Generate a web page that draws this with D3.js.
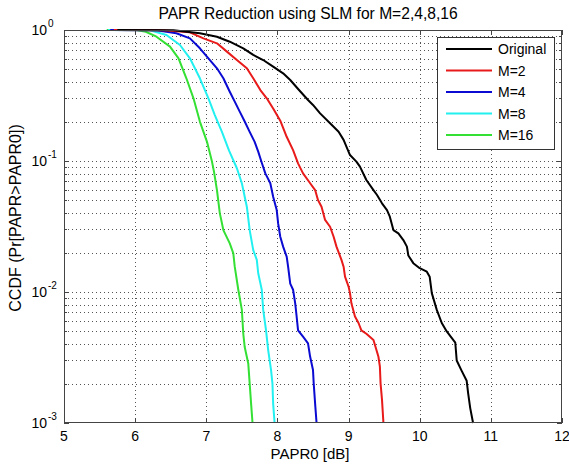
<!DOCTYPE html>
<html><head><meta charset="utf-8">
<script src="https://cdn.jsdelivr.net/npm/d3@7"></script>
<style>body{margin:0;background:#fff}svg{display:block}text{font-family:Arial,"Liberation Sans",sans-serif;fill:#000}</style>
</head><body><svg id="c" width="569" height="465"></svg>
<script>
// ---- data (PAPR0 [dB], CCDF) ----
const original = [[5.75,1],[6.54,0.995],[6.91,0.944],[7.15,0.889],[7.33,0.814],[7.52,0.725],[7.66,0.645],[7.80,0.590],[7.94,0.525],[8.08,0.467],[8.18,0.415],[8.30,0.35],[8.43,0.292],[8.50,0.268],[8.60,0.231],[8.74,0.194],[8.86,0.167],[8.93,0.145],[9.02,0.111],[9.11,0.0989],[9.16,0.0905],[9.25,0.0716],[9.35,0.060],[9.40,0.055],[9.47,0.0475],[9.54,0.0422],[9.58,0.0376],[9.63,0.0297],[9.70,0.0280],[9.77,0.0249],[9.82,0.0222],[9.84,0.0190],[9.91,0.0166],[10.00,0.0152],[10.10,0.0143],[10.14,0.0131],[10.17,0.0098],[10.24,0.0073],[10.31,0.0058],[10.38,0.0050],[10.50,0.0041],[10.52,0.0030],[10.59,0.0025],[10.66,0.0021],[10.68,0.0017],[10.71,0.0013],[10.75,0.001]];
const m2 = [[5.7,1],[6.40,0.995],[6.77,0.960],[6.96,0.863],[7.15,0.791],[7.29,0.684],[7.43,0.590],[7.57,0.510],[7.66,0.428],[7.76,0.348],[7.85,0.301],[7.94,0.252],[8.04,0.203],[8.13,0.153],[8.22,0.121],[8.29,0.096],[8.36,0.0805],[8.46,0.0676],[8.53,0.060],[8.57,0.0504],[8.62,0.0448],[8.67,0.0355],[8.74,0.0315],[8.79,0.0264],[8.83,0.0222],[8.90,0.0176],[8.93,0.0156],[8.95,0.0131],[9.00,0.0110],[9.02,0.0098],[9.04,0.0082],[9.09,0.0065],[9.14,0.0058],[9.18,0.0051],[9.25,0.0048],[9.35,0.0043],[9.42,0.0032],[9.44,0.0027],[9.45,0.0020],[9.47,0.0015],[9.49,0.001]];
const m4 = [[5.65,1],[6.30,0.995],[6.58,0.944],[6.77,0.863],[6.91,0.725],[7.03,0.608],[7.15,0.510],[7.24,0.428],[7.33,0.338],[7.40,0.284],[7.47,0.238],[7.54,0.200],[7.61,0.167],[7.68,0.140],[7.73,0.118],[7.78,0.097],[7.83,0.0805],[7.90,0.0676],[7.94,0.0534],[7.99,0.0422],[8.01,0.0334],[8.04,0.0264],[8.08,0.0222],[8.13,0.0186],[8.15,0.0156],[8.18,0.0116],[8.22,0.0104],[8.25,0.0082],[8.27,0.0065],[8.29,0.0051],[8.36,0.00456],[8.43,0.00406],[8.46,0.0032],[8.50,0.00254],[8.51,0.0020],[8.53,0.0014],[8.55,0.001]];
const m8 = [[5.62,1],[6.21,0.995],[6.44,0.916],[6.63,0.768],[6.77,0.608],[6.91,0.428],[7.03,0.301],[7.12,0.224],[7.22,0.167],[7.32,0.120],[7.43,0.088],[7.50,0.0676],[7.57,0.0448],[7.61,0.0297],[7.66,0.0209],[7.71,0.0176],[7.73,0.0139],[7.78,0.0104],[7.80,0.0073],[7.84,0.0051],[7.87,0.0036],[7.91,0.00254],[7.93,0.0020],[7.94,0.0014],[7.96,0.001]];
const m16 = [[5.6,1],[6.02,0.998],[6.15,0.97],[6.30,0.889],[6.49,0.746],[6.61,0.608],[6.72,0.428],[6.82,0.301],[6.91,0.200],[7.01,0.140],[7.08,0.099],[7.11,0.082],[7.15,0.060],[7.19,0.040],[7.24,0.0297],[7.33,0.0235],[7.38,0.0197],[7.40,0.0156],[7.45,0.0104],[7.50,0.0073],[7.52,0.0048],[7.54,0.0038],[7.59,0.00285],[7.61,0.0020],[7.63,0.0014],[7.65,0.001]];
const seriesNames = ["Original","M=2","M=4","M=8","M=16"];
const seriesData = [original, m2, m4, m8, m16];
const seriesColors = ["#000000","#e81a1a","#0a0ad2","#22f0f0","#33e033"];
const xTicks = [5,6,7,8,9,10,11,12];
const yDecades = [-3,-2,-1,0];
const titleText = "PAPR Reduction using SLM for M=2,4,8,16";
const xLabelText = "PAPR0 [dB]";
const yLabelText = "CCDF (Pr[PAPR>PAPR0])";

// ---- layout ----
const L=64, R=562, T=30, B=423;
const svg = d3.select("#c");
const x = d3.scaleLinear().domain([5,12]).range([L,R]);
const y = d3.scaleLog().domain([1e-3,1]).range([B,T]);

const yAll = [];
yDecades.forEach(d=>{ if(d<0){ for(let k=1;k<=9;k++) yAll.push(k*Math.pow(10,d)); } });
yAll.push(1);

const grid = svg.append("g").attr("stroke","#555").attr("stroke-width",1).attr("stroke-dasharray","1,3");
xTicks.filter(v=>v>5&&v<12).forEach(v=>{
  grid.append("line").attr("x1",Math.round(x(v))+0.5).attr("x2",Math.round(x(v))+0.5).attr("y1",T).attr("y2",B);
});
yAll.filter(v=>v>1e-3&&v<1).forEach(v=>{
  grid.append("line").attr("x1",L).attr("x2",R).attr("y1",Math.round(y(v))+0.5).attr("y2",Math.round(y(v))+0.5);
});

svg.append("clipPath").attr("id","clip").append("rect").attr("x",L).attr("y",T-1).attr("width",R-L).attr("height",B-T+2);
const line = d3.line().x(d=>x(d[0])).y(d=>y(d[1]));
const cg = svg.append("g").attr("clip-path","url(#clip)");
seriesData.slice().reverse().forEach((s,i)=>{
  const idx = seriesData.length-1-i;
  cg.append("path").attr("d",line(s)).attr("fill","none").attr("stroke",seriesColors[idx]).attr("stroke-width",2).attr("stroke-linejoin","round");
});

const ax = svg.append("g").attr("stroke","#444").attr("stroke-width",1).attr("fill","none");
ax.append("rect").attr("x",L+0.5).attr("y",T+0.5).attr("width",R-L-1).attr("height",B-T-1);
xTicks.forEach(v=>{
  const px=Math.round(x(v))+0.5;
  ax.append("line").attr("x1",px).attr("x2",px).attr("y1",B).attr("y2",B-5);
  ax.append("line").attr("x1",px).attr("x2",px).attr("y1",T).attr("y2",T+5);
});
yAll.forEach(v=>{
  const py=Math.round(y(v))+0.5;
  const major = Math.abs(Math.log10(v)-Math.round(Math.log10(v)))<1e-9;
  const len = major?5:3;
  ax.append("line").attr("x1",L).attr("x2",L+len).attr("y1",py).attr("y2",py);
  ax.append("line").attr("x1",R).attr("x2",R-len).attr("y1",py).attr("y2",py);
});

xTicks.forEach(v=>{
  svg.append("text").attr("x",x(v)).attr("y",441).attr("text-anchor","middle").attr("font-size",14).text(v);
});
yDecades.forEach(d=>{
  const py = y(Math.pow(10,d));
  svg.append("text").attr("x",47).attr("y",py+5).attr("text-anchor","end").attr("font-size",14).text("10");
  svg.append("text").attr("x",48).attr("y",py-3).attr("text-anchor","start").attr("font-size",10).text(d);
});

svg.append("text").attr("x",308).attr("y",19).attr("text-anchor","middle").attr("font-size",15.6).text(titleText);
svg.append("text").attr("x",310).attr("y",459).attr("text-anchor","middle").attr("font-size",15).text(xLabelText);
svg.append("text").attr("transform",`translate(21,218) rotate(-90)`).attr("text-anchor","middle").attr("font-size",16).text(yLabelText);

const lg = svg.append("g");
lg.append("rect").attr("x",437.5).attr("y",37.5).attr("width",117).attr("height",112).attr("fill","#fff").attr("stroke","#333");
seriesNames.forEach((n,i)=>{
  const ly = 49 + i*21.5;
  lg.append("line").attr("x1",446).attr("x2",492).attr("y1",ly).attr("y2",ly).attr("stroke",seriesColors[i]).attr("stroke-width",2);
  lg.append("text").attr("x",498).attr("y",ly+5).attr("font-size",14).text(n);
});
</script></body></html>
